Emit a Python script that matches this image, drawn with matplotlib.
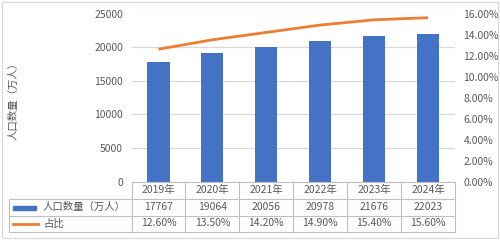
import matplotlib.pyplot as plt
from matplotlib.patches import Rectangle
from matplotlib.lines import Line2D
from matplotlib.ticker import FuncFormatter

plt.rcParams['font.family'] = ['Noto Sans CJK SC', 'DejaVu Sans']

years = ['2019年', '2020年', '2021年', '2022年', '2023年', '2024年']
population = [17767, 19064, 20056, 20978, 21676, 22023]
share = [12.60, 13.50, 14.20, 14.90, 15.40, 15.60]
share_labels = ['12.60%', '13.50%', '14.20%', '14.90%', '15.40%', '15.60%']
bar_name = '人口数量（万人）'
line_name = '占比'

blue = '#4472C4'
orange = '#ED7D31'
txt = '#595959'
grid_c = '#D9D9D9'
tab_c = '#BFBFBF'
fs = 7.5

fig = plt.figure(figsize=(5, 2.4), dpi=100)
W, H = 500, 240

def fx(px):
    return px / W

def fy(py):
    return 1 - py / H

left, right, top, bottom = 131.5, 455, 13.5, 181.7
ax = fig.add_axes([fx(left), fy(bottom), fx(right - left), fy(top) - fy(bottom)])
x = list(range(len(years)))
ax.bar(x, population, width=0.41, color=blue, zorder=3)
ax.set_xlim(-0.5, len(years) - 0.5)
ax.set_ylim(0, 25000)
ax.set_yticks([0, 5000, 10000, 15000, 20000, 25000])
ax.yaxis.set_major_formatter(FuncFormatter(lambda v, p: '%d' % v))
ax.grid(axis='y', color=grid_c, linewidth=0.9, zorder=0)
ax.set_xticks([])
for s in ax.spines.values():
    s.set_visible(False)
ax.tick_params(axis='y', length=0, labelsize=fs, labelcolor=txt, pad=6)

ax2 = ax.twinx()
ax2.plot(x, share, color=orange, linewidth=2, solid_capstyle='butt', zorder=4)
ax2.set_ylim(0, 16)
ax2.set_yticks([0, 2, 4, 6, 8, 10, 12, 14, 16])
ax2.yaxis.set_major_formatter(FuncFormatter(lambda v, p: '%.2f%%' % v))
for s in ax2.spines.values():
    s.set_visible(False)
ax2.tick_params(axis='y', length=0, labelsize=fs, labelcolor=txt, pad=6)

fig.text(fx(13), fy(99), '人口数量（万人）', rotation=90, ha='center', va='center',
         fontsize=fs, color=txt)

# data table under the plot
rows = [181.7, 199, 215.5, 231.5]
tab_left = 9
col_w = (right - left) / len(years)
cols = [left + i * col_w for i in range(len(years) + 1)]

def hline(y, x0, x1):
    fig.add_artist(Line2D([fx(x0), fx(x1)], [fy(y), fy(y)], color=tab_c, linewidth=0.8))

def vline(xp, y0, y1):
    fig.add_artist(Line2D([fx(xp), fx(xp)], [fy(y0), fy(y1)], color=tab_c, linewidth=0.8))

hline(rows[0], left, right)
for r in rows[1:]:
    hline(r, tab_left, right)
for c in cols:
    vline(c, rows[0], rows[3])
vline(tab_left, rows[1], rows[3])

for i in range(len(years)):
    cx = fx((cols[i] + cols[i + 1]) / 2)
    fig.text(cx, fy((rows[0] + rows[1]) / 2), years[i], ha='center', va='center', fontsize=fs, color=txt)
    fig.text(cx, fy((rows[1] + rows[2]) / 2), str(population[i]), ha='center', va='center', fontsize=fs, color=txt)
    fig.text(cx, fy((rows[2] + rows[3]) / 2), share_labels[i], ha='center', va='center', fontsize=fs, color=txt)

fig.add_artist(Rectangle((fx(13), fy(210)), fx(23), fy(206) - fy(210), color=blue))
fig.add_artist(Line2D([fx(13), fx(38)], [fy(223.5), fy(223.5)], color=orange, linewidth=2))
fig.text(fx(43), fy((rows[1] + rows[2]) / 2), bar_name, ha='left', va='center', fontsize=fs, color=txt)
fig.text(fx(43), fy((rows[2] + rows[3]) / 2), line_name, ha='left', va='center', fontsize=fs, color=txt)

# outer frame
fig.add_artist(Rectangle((fx(1.5), fy(237.5)), fx(496), fy(1.5) - fy(237.5), fill=False,
                         edgecolor='#D9D9D9', linewidth=0.9))

fig.savefig('out.png', dpi=100)
